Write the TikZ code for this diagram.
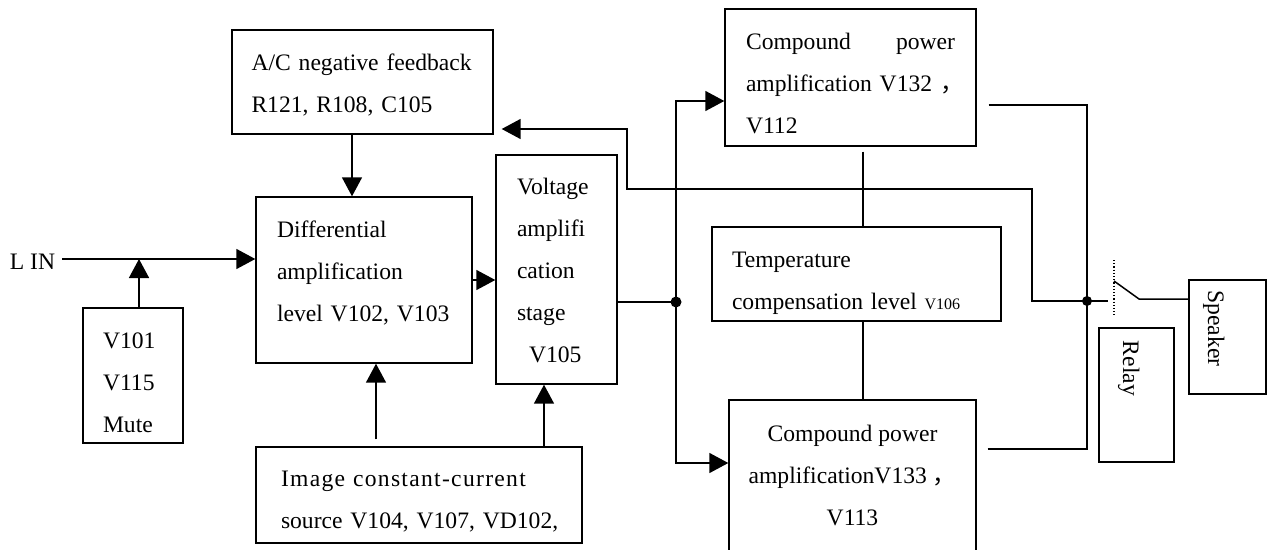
\documentclass[tikz,border=0pt]{standalone}
\usepackage{fontspec}
\setmainfont{Liberation Serif}
\newfontfamily\cjk{Noto Sans CJK SC}
\usetikzlibrary{arrows.meta,calc}
\newcommand\tst[1]{\rule{0pt}{#1}}
\newcommand\bst[1]{\rule[-#1]{0pt}{#1}}
\begin{document}
\begin{tikzpicture}[x=1pt,y=-1pt,
  txt/.style={font=\fontsize{23.6}{42}\selectfont},
  box/.style={txt, draw, line width=1.4pt, inner sep=0pt},
  ln/.style={line width=1.5pt},
  arr/.style={ln, -{Triangle[length=19pt,width=20pt]}},
  dotn/.style={circle, fill, inner sep=0pt, minimum size=11pt}]
\clip (0,0) rectangle (1271,549);
\fill[white] (0,0) rectangle (1271,549);

% boxes
\node[box, minimum width=261pt, minimum height=104pt, text width=222pt, align=left] (fb) at (362.5,82)
  {\tst{22pt}A/C negative feedback\\R121, R108, C105\bst{4pt}};
\node[box, minimum width=216pt, minimum height=166pt, text width=174pt, align=left] (diff) at (364,280)
  {\tst{17pt}Differential\\amplification\\level V102, V103\bst{19pt}};
\node[box, minimum width=121pt, minimum height=229pt, text width=79pt, align=left] (volt) at (556.5,269.5)
  {\tst{23pt}Voltage\\amplifi\\cation\\stage\\\hspace*{12pt}V105\bst{5pt}};
\node[box, minimum width=251pt, minimum height=137pt, text width=209pt, align=left] (cpt) at (850.5,77.5)
  {\tst{32pt}Compound\hfill power\\amplification V132\hspace{8pt}\rlap{\cjk ，}\\V112\bst{5pt}};
\node[box, minimum width=289pt, minimum height=94pt, text width=249pt, align=left] (temp) at (856.5,274)
  {\tst{34pt}Temperature\\compensation level {\fontsize{16}{16}\selectfont V106}\bst{5pt}};
\node[box, minimum width=247pt, minimum height=160pt, align=center] (cpb) at (852.5,480)
  {\tst{17pt}Compound power\\amplificationV133 {\cjk ，}\\V113\bst{10pt}};
\node[box, minimum width=100pt, minimum height=135pt, text width=60pt, align=left] (mute) at (133,375.5)
  {\tst{34pt}V101\\V115\\Mute\bst{5pt}};
\node[box, minimum width=326pt, minimum height=96pt, text width=276pt, align=left] (img) at (419,495)
  {\tst{30pt}\mbox{\addfontfeature{LetterSpace=5.5}Image constant-current}\\\mbox{source V104, V107, VD102,}\bst{5pt}};
\node[box, rotate=-90, minimum width=134pt, minimum height=75pt] (relay) at (1136.5,395)
  {\tst{32pt}\bst{5pt}Relay\hspace*{53pt}};
\node[box, rotate=-90, minimum width=114pt, minimum height=77pt] (spk) at (1227.5,337)
  {\tst{44pt}\bst{5pt}Speaker\hspace*{17pt}};
\node[txt, inner sep=0pt] (lin) at (32.5,262) {L IN};

\node[dotn] (dot) at (676,302) {};
\node[dotn, minimum size=10pt] (jn) at (1087,301) {};

% input
\coordinate (lo) at ($(lin.east)+(7,-3)$);
\draw[arr] (lo) -- (lo -| diff.west);
\coordinate (mt) at ($(mute.north)+(6,0)$);
\draw[arr] (mt) -- (mt |- lo);

% feedback box to diff
\coordinate (fbd) at ($(diff.north)+(-12,0)$);
\draw[arr] (fbd |- fb.south) -- (fbd);
\draw[arr] (diff.east) -- (diff.east -| volt.west);

% current source
\coordinate (ia) at ($(diff.south)+(12,0)$);
\draw[arr, shorten <=7pt] (ia |- img.north) -- (ia);
\coordinate (ib) at ($(volt.south)+(-12.5,0)$);
\draw[arr] (ib |- img.north) -- (ib);

% voltage stage to power stages
\coordinate (vo) at ($(volt.east)+(0,32.5)$);
\draw[ln] (vo) -- (dot.center);
\coordinate (ct) at ($(cpt.west)+(0,23.5)$);
\draw[arr] (dot.center) |- (ct);
\coordinate (cb) at ($(cpb.west)+(0,-17)$);
\draw[arr] (dot.center) |- (cb);

% temperature compensation links
\coordinate (tt) at ($(cpt.south)+(12.5,0)$);
\draw[ln, shorten <=5pt] (tt) -- (tt |- temp.north);
\coordinate (tb) at ($(temp.south)+(6.5,0)$);
\draw[ln] (tb) -- (tb |- cpb.north);

% outputs
\coordinate (co) at ($(cpt.east)+(0,27.5)$);
\draw[ln, shorten <=12pt] (co) -| (jn.center);
\coordinate (bo) at ($(cpb.east)+(0,-31)$);
\draw[ln, shorten <=11pt] (bo) -| (jn.center);

% feedback path
\coordinate (f1) at ($(jn.center)+(-55,0)$);
\coordinate (f2) at (627,189);
\coordinate (fe) at ($(fb.east)+(0,47)$);
\draw[arr, shorten >=8pt] (jn.center) -- (f1) |- (f2) |- (fe);

% relay switch
\coordinate (s0) at ($(jn.center)+(21,0)$);
\draw[ln] (jn.center) -- (s0);
\draw[line width=1.2pt, dotted] ($(jn.center)+(27,-41)$) -- ($(jn.center)+(27,14)$);
\coordinate (s1) at ($(jn.center)+(27,-20)$);
\coordinate (s2) at ($(jn.center)+(52,-2)$);
\draw[ln] (s1) -- (s2) -- (s2 -| spk.south);
\end{tikzpicture}
\end{document}
